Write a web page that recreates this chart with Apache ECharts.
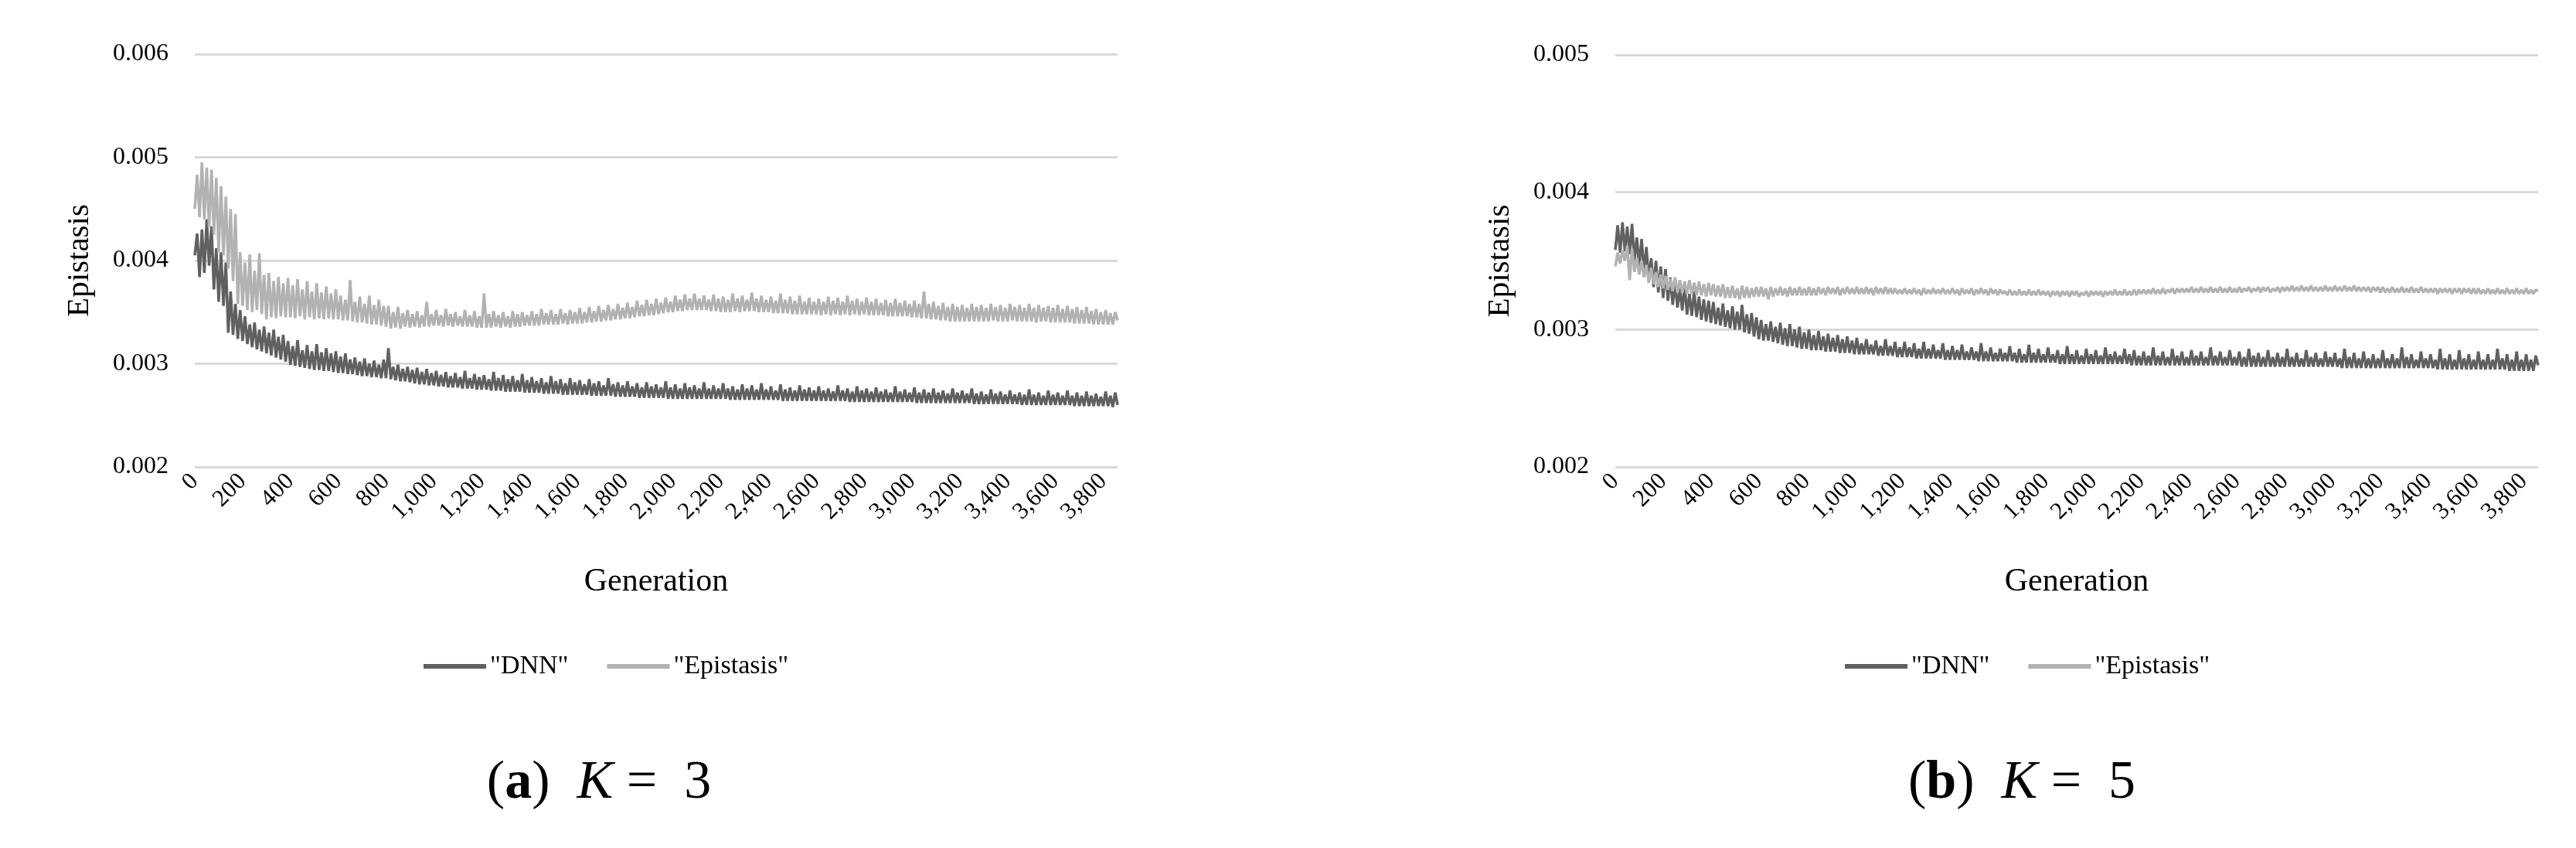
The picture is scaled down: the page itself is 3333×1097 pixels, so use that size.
<!DOCTYPE html>
<html>
<head>
<meta charset="utf-8">
<title>Epistasis vs DNN</title>
<script src="https://cdn.jsdelivr.net/npm/echarts@6/dist/echarts.min.js"></script>
<style>
  html, body { margin: 0; padding: 0; background: #fff; }
  #chart { width: 3333px; height: 1097px; }
</style>
</head>
<body>
<div id="chart"></div>
<script>
// values are in units of 1e-3 (axis labels print them as 0.00x)
// one reading every 10 generations, alternating low/high edge of the noisy band
const generationStep = 10

const dnnK3 = [
  4.05, 4.26, 3.84, 4.30, 3.88, 4.40, 3.95, 4.33, 3.72, 4.12, 3.60, 4.08, 3.56, 3.98, 3.30, 3.70, 3.28, 3.58, 3.24, 3.52,
  3.22, 3.46, 3.19, 3.38, 3.16, 3.40, 3.14, 3.33, 3.12, 3.36, 3.10, 3.30, 3.08, 3.33, 3.06, 3.26, 3.04, 3.28, 3.02, 3.22,
  2.99, 3.17, 2.98, 3.23, 2.97, 3.13, 2.96, 3.18, 2.95, 3.12, 2.94, 3.19, 2.94, 3.11, 2.93, 3.15, 2.93, 3.10, 2.92, 3.12,
  2.91, 3.07, 2.91, 3.10, 2.90, 3.04, 2.90, 3.06, 2.89, 3.02, 2.88, 3.05, 2.88, 3.00, 2.87, 3.03, 2.87, 2.99, 2.86, 3.04,
  2.86, 3.15, 2.85, 2.97, 2.84, 2.99, 2.83, 2.95, 2.83, 2.97, 2.82, 2.94, 2.81, 2.96, 2.80, 2.92, 2.80, 2.95, 2.79, 2.91,
  2.79, 2.93, 2.78, 2.89, 2.78, 2.92, 2.77, 2.88, 2.77, 2.91, 2.77, 2.87, 2.76, 2.93, 2.76, 2.86, 2.76, 2.90, 2.75, 2.87,
  2.75, 2.89, 2.75, 2.85, 2.74, 2.92, 2.74, 2.86, 2.74, 2.89, 2.73, 2.85, 2.73, 2.88, 2.73, 2.84, 2.73, 2.90, 2.72, 2.84,
  2.72, 2.87, 2.72, 2.83, 2.72, 2.86, 2.71, 2.82, 2.71, 2.88, 2.71, 2.83, 2.71, 2.85, 2.70, 2.81, 2.70, 2.86, 2.70, 2.82,
  2.70, 2.84, 2.70, 2.80, 2.70, 2.85, 2.69, 2.81, 2.69, 2.83, 2.69, 2.79, 2.69, 2.86, 2.69, 2.80, 2.68, 2.82, 2.68, 2.79,
  2.68, 2.83, 2.68, 2.78, 2.68, 2.81, 2.67, 2.77, 2.67, 2.82, 2.67, 2.78, 2.67, 2.80, 2.67, 2.77, 2.67, 2.83, 2.66, 2.77,
  2.66, 2.80, 2.66, 2.76, 2.66, 2.81, 2.66, 2.77, 2.66, 2.79, 2.66, 2.76, 2.66, 2.82, 2.66, 2.76, 2.66, 2.79, 2.66, 2.76,
  2.66, 2.81, 2.66, 2.76, 2.65, 2.78, 2.65, 2.75, 2.65, 2.80, 2.65, 2.76, 2.65, 2.79, 2.65, 2.75, 2.65, 2.81, 2.65, 2.75,
  2.65, 2.78, 2.65, 2.74, 2.65, 2.80, 2.64, 2.75, 2.64, 2.77, 2.64, 2.74, 2.64, 2.79, 2.64, 2.75, 2.64, 2.77, 2.64, 2.74,
  2.64, 2.78, 2.64, 2.74, 2.64, 2.76, 2.64, 2.73, 2.64, 2.79, 2.64, 2.74, 2.64, 2.76, 2.63, 2.73, 2.63, 2.78, 2.63, 2.74,
  2.63, 2.76, 2.63, 2.73, 2.63, 2.77, 2.63, 2.73, 2.63, 2.75, 2.63, 2.72, 2.63, 2.78, 2.63, 2.73, 2.63, 2.75, 2.63, 2.72,
  2.63, 2.77, 2.62, 2.72, 2.62, 2.75, 2.62, 2.72, 2.62, 2.76, 2.62, 2.72, 2.62, 2.74, 2.62, 2.71, 2.62, 2.76, 2.62, 2.72,
  2.62, 2.74, 2.62, 2.71, 2.62, 2.76, 2.61, 2.71, 2.61, 2.73, 2.61, 2.70, 2.61, 2.75, 2.61, 2.71, 2.61, 2.73, 2.61, 2.70,
  2.61, 2.74, 2.61, 2.70, 2.61, 2.72, 2.60, 2.70, 2.60, 2.75, 2.60, 2.70, 2.60, 2.72, 2.60, 2.69, 2.60, 2.74, 2.60, 2.70,
  2.60, 2.72, 2.60, 2.69, 2.60, 2.74, 2.60, 2.69, 2.59, 2.72, 2.59, 2.69, 2.59, 2.73, 2.59, 2.69, 2.59, 2.71, 2.59, 2.68,
  2.59, 2.73, 2.59, 2.69, 2.58, 2.72, 2.60
]

const epistasisK3 = [
  4.50, 4.83, 4.42, 4.95, 4.40, 4.90, 4.32, 4.88, 4.25, 4.80, 4.08, 4.72, 4.05, 4.62, 3.92, 4.50, 3.80, 4.45, 3.58, 4.08,
  3.56, 3.98, 3.52, 4.06, 3.50, 3.90, 3.52, 4.07, 3.48, 3.86, 3.43, 3.88, 3.45, 3.80, 3.44, 3.84, 3.46, 3.78, 3.45, 3.83,
  3.45, 3.76, 3.44, 3.82, 3.46, 3.72, 3.43, 3.80, 3.45, 3.70, 3.43, 3.78, 3.44, 3.69, 3.43, 3.75, 3.44, 3.68, 3.43, 3.72,
  3.43, 3.66, 3.42, 3.62, 3.42, 3.81, 3.41, 3.60, 3.40, 3.65, 3.40, 3.58, 3.39, 3.66, 3.38, 3.57, 3.38, 3.62, 3.37, 3.56,
  3.36, 3.56, 3.34, 3.50, 3.35, 3.55, 3.34, 3.49, 3.36, 3.52, 3.35, 3.48, 3.36, 3.51, 3.35, 3.47, 3.36, 3.60, 3.36, 3.48,
  3.37, 3.52, 3.37, 3.47, 3.36, 3.53, 3.37, 3.48, 3.36, 3.50, 3.37, 3.46, 3.36, 3.52, 3.36, 3.47, 3.36, 3.51, 3.35, 3.46,
  3.35, 3.68, 3.35, 3.48, 3.35, 3.51, 3.36, 3.47, 3.35, 3.50, 3.36, 3.46, 3.35, 3.51, 3.36, 3.48, 3.36, 3.50, 3.37, 3.47,
  3.37, 3.51, 3.37, 3.48, 3.37, 3.53, 3.38, 3.49, 3.38, 3.52, 3.38, 3.48, 3.38, 3.53, 3.39, 3.49, 3.38, 3.52, 3.39, 3.50,
  3.39, 3.54, 3.39, 3.50, 3.40, 3.55, 3.40, 3.51, 3.41, 3.56, 3.41, 3.52, 3.42, 3.57, 3.42, 3.53, 3.43, 3.58, 3.43, 3.54,
  3.44, 3.59, 3.44, 3.55, 3.45, 3.61, 3.46, 3.57, 3.46, 3.62, 3.47, 3.58, 3.47, 3.63, 3.48, 3.59, 3.49, 3.64, 3.50, 3.60,
  3.50, 3.66, 3.51, 3.62, 3.51, 3.67, 3.52, 3.63, 3.52, 3.68, 3.52, 3.63, 3.52, 3.66, 3.52, 3.62, 3.51, 3.67, 3.51, 3.63,
  3.50, 3.65, 3.50, 3.62, 3.50, 3.68, 3.51, 3.63, 3.50, 3.66, 3.51, 3.62, 3.51, 3.69, 3.51, 3.63, 3.50, 3.66, 3.50, 3.62,
  3.50, 3.65, 3.49, 3.61, 3.49, 3.68, 3.49, 3.62, 3.49, 3.65, 3.48, 3.61, 3.48, 3.66, 3.48, 3.60, 3.48, 3.64, 3.48, 3.60,
  3.48, 3.63, 3.47, 3.60, 3.48, 3.65, 3.47, 3.61, 3.48, 3.64, 3.47, 3.60, 3.48, 3.66, 3.47, 3.61, 3.48, 3.63, 3.47, 3.60,
  3.48, 3.64, 3.47, 3.60, 3.47, 3.63, 3.47, 3.59, 3.47, 3.62, 3.46, 3.59, 3.46, 3.63, 3.46, 3.59, 3.46, 3.61, 3.46, 3.58,
  3.45, 3.61, 3.45, 3.58, 3.44, 3.70, 3.44, 3.58, 3.43, 3.60, 3.43, 3.56, 3.42, 3.59, 3.42, 3.55, 3.41, 3.58, 3.41, 3.55,
  3.41, 3.57, 3.41, 3.54, 3.41, 3.58, 3.41, 3.55, 3.41, 3.57, 3.41, 3.54, 3.41, 3.58, 3.42, 3.55, 3.41, 3.57, 3.41, 3.54,
  3.41, 3.58, 3.42, 3.55, 3.41, 3.57, 3.41, 3.54, 3.41, 3.58, 3.41, 3.54, 3.40, 3.57, 3.41, 3.54, 3.41, 3.56, 3.40, 3.54,
  3.40, 3.57, 3.40, 3.53, 3.40, 3.56, 3.40, 3.53, 3.39, 3.55, 3.39, 3.52, 3.39, 3.55, 3.39, 3.51, 3.38, 3.53, 3.38, 3.50,
  3.38, 3.52, 3.38, 3.49, 3.38, 3.50, 3.42
]

const dnnK5 = [
  3.58, 3.76, 3.56, 3.78, 3.57, 3.75, 3.55, 3.77, 3.50, 3.67, 3.46, 3.66, 3.42, 3.60, 3.36, 3.52, 3.31, 3.50, 3.27, 3.46,
  3.23, 3.44, 3.21, 3.38, 3.18, 3.34, 3.16, 3.30, 3.14, 3.32, 3.11, 3.26, 3.10, 3.28, 3.09, 3.24, 3.07, 3.22, 3.06, 3.21,
  3.05, 3.20, 3.04, 3.16, 3.03, 3.19, 3.02, 3.14, 3.01, 3.17, 3.00, 3.13, 3.00, 3.18, 2.98, 3.11, 2.97, 3.12, 2.95, 3.09,
  2.93, 3.07, 2.92, 3.04, 2.92, 3.06, 2.91, 3.02, 2.90, 3.05, 2.89, 3.01, 2.88, 3.04, 2.88, 3.00, 2.87, 3.02, 2.86, 2.98,
  2.86, 3.00, 2.85, 2.96, 2.85, 2.99, 2.85, 2.95, 2.84, 2.97, 2.84, 2.94, 2.84, 2.96, 2.83, 2.93, 2.83, 2.95, 2.83, 2.92,
  2.82, 2.94, 2.82, 2.90, 2.82, 2.93, 2.82, 2.89, 2.82, 2.92, 2.81, 2.88, 2.81, 2.93, 2.81, 2.88, 2.81, 2.91, 2.80, 2.87,
  2.80, 2.91, 2.80, 2.87, 2.80, 2.90, 2.79, 2.86, 2.79, 2.91, 2.79, 2.86, 2.79, 2.89, 2.79, 2.85, 2.79, 2.90, 2.78, 2.85,
  2.78, 2.88, 2.78, 2.85, 2.78, 2.89, 2.78, 2.84, 2.78, 2.87, 2.78, 2.84, 2.77, 2.90, 2.77, 2.84, 2.77, 2.87, 2.77, 2.83,
  2.77, 2.86, 2.77, 2.83, 2.77, 2.88, 2.77, 2.83, 2.76, 2.86, 2.76, 2.82, 2.76, 2.89, 2.76, 2.83, 2.76, 2.86, 2.76, 2.82,
  2.76, 2.87, 2.76, 2.82, 2.76, 2.85, 2.75, 2.82, 2.75, 2.88, 2.75, 2.82, 2.75, 2.85, 2.75, 2.81, 2.75, 2.86, 2.75, 2.82,
  2.75, 2.85, 2.75, 2.81, 2.75, 2.87, 2.75, 2.82, 2.75, 2.84, 2.75, 2.81, 2.75, 2.86, 2.75, 2.82, 2.74, 2.85, 2.74, 2.81,
  2.74, 2.84, 2.74, 2.81, 2.74, 2.87, 2.74, 2.81, 2.74, 2.84, 2.74, 2.80, 2.74, 2.86, 2.74, 2.81, 2.74, 2.84, 2.74, 2.80,
  2.74, 2.85, 2.74, 2.81, 2.74, 2.84, 2.74, 2.80, 2.74, 2.87, 2.74, 2.81, 2.74, 2.84, 2.74, 2.80, 2.74, 2.85, 2.74, 2.80,
  2.74, 2.84, 2.73, 2.80, 2.73, 2.86, 2.73, 2.81, 2.73, 2.83, 2.73, 2.80, 2.73, 2.85, 2.73, 2.80, 2.73, 2.83, 2.73, 2.80,
  2.73, 2.86, 2.73, 2.80, 2.73, 2.83, 2.73, 2.79, 2.73, 2.85, 2.73, 2.80, 2.73, 2.83, 2.73, 2.79, 2.73, 2.84, 2.73, 2.80,
  2.73, 2.83, 2.73, 2.79, 2.72, 2.86, 2.72, 2.80, 2.72, 2.83, 2.72, 2.79, 2.72, 2.84, 2.72, 2.79, 2.72, 2.82, 2.72, 2.79,
  2.72, 2.85, 2.72, 2.79, 2.72, 2.82, 2.72, 2.79, 2.72, 2.87, 2.72, 2.80, 2.72, 2.82, 2.72, 2.78, 2.72, 2.84, 2.72, 2.79,
  2.72, 2.82, 2.72, 2.78, 2.71, 2.86, 2.71, 2.79, 2.71, 2.82, 2.71, 2.78, 2.71, 2.85, 2.71, 2.79, 2.71, 2.82, 2.71, 2.78,
  2.71, 2.84, 2.71, 2.78, 2.71, 2.82, 2.71, 2.78, 2.71, 2.86, 2.71, 2.79, 2.71, 2.82, 2.70, 2.78, 2.70, 2.84, 2.70, 2.78,
  2.70, 2.82, 2.70, 2.78, 2.70, 2.81, 2.74
]

const epistasisK5 = [
  3.46, 3.56, 3.48, 3.58, 3.50, 3.61, 3.36, 3.59, 3.42, 3.52, 3.40, 3.50, 3.38, 3.47, 3.34, 3.45, 3.33, 3.42, 3.31, 3.40,
  3.30, 3.39, 3.29, 3.37, 3.28, 3.38, 3.27, 3.36, 3.27, 3.35, 3.26, 3.36, 3.26, 3.34, 3.25, 3.35, 3.25, 3.33, 3.24, 3.34,
  3.25, 3.33, 3.24, 3.32, 3.24, 3.33, 3.23, 3.31, 3.23, 3.32, 3.23, 3.30, 3.22, 3.32, 3.23, 3.31, 3.23, 3.30, 3.24, 3.31,
  3.24, 3.31, 3.24, 3.30, 3.22, 3.31, 3.24, 3.30, 3.25, 3.31, 3.25, 3.30, 3.24, 3.31, 3.25, 3.30, 3.25, 3.31, 3.25, 3.30,
  3.25, 3.31, 3.25, 3.30, 3.25, 3.31, 3.26, 3.30, 3.25, 3.31, 3.26, 3.30, 3.26, 3.31, 3.25, 3.30, 3.26, 3.31, 3.26, 3.30,
  3.26, 3.31, 3.26, 3.30, 3.26, 3.31, 3.26, 3.30, 3.25, 3.31, 3.26, 3.30, 3.26, 3.31, 3.26, 3.30, 3.26, 3.30, 3.26, 3.29,
  3.26, 3.30, 3.26, 3.29, 3.26, 3.30, 3.26, 3.29, 3.25, 3.30, 3.26, 3.29, 3.26, 3.30, 3.26, 3.29, 3.26, 3.30, 3.26, 3.29,
  3.26, 3.30, 3.26, 3.29, 3.25, 3.30, 3.26, 3.29, 3.26, 3.30, 3.25, 3.29, 3.26, 3.30, 3.26, 3.29, 3.25, 3.30, 3.26, 3.29,
  3.25, 3.29, 3.26, 3.28, 3.25, 3.29, 3.25, 3.28, 3.25, 3.29, 3.25, 3.28, 3.25, 3.29, 3.25, 3.28, 3.25, 3.29, 3.25, 3.28,
  3.25, 3.28, 3.24, 3.28, 3.25, 3.28, 3.24, 3.28, 3.25, 3.28, 3.24, 3.28, 3.25, 3.28, 3.24, 3.27, 3.25, 3.28, 3.24, 3.28,
  3.25, 3.28, 3.25, 3.28, 3.24, 3.28, 3.25, 3.28, 3.25, 3.29, 3.25, 3.28, 3.25, 3.29, 3.25, 3.28, 3.25, 3.29, 3.25, 3.29,
  3.26, 3.29, 3.26, 3.29, 3.26, 3.30, 3.26, 3.29, 3.26, 3.30, 3.26, 3.29, 3.27, 3.30, 3.26, 3.30, 3.27, 3.30, 3.27, 3.30,
  3.27, 3.31, 3.27, 3.30, 3.27, 3.31, 3.27, 3.30, 3.27, 3.31, 3.27, 3.30, 3.27, 3.31, 3.27, 3.30, 3.27, 3.31, 3.27, 3.30,
  3.27, 3.31, 3.27, 3.30, 3.28, 3.31, 3.27, 3.30, 3.28, 3.31, 3.27, 3.31, 3.28, 3.31, 3.27, 3.30, 3.28, 3.31, 3.27, 3.31,
  3.28, 3.31, 3.28, 3.32, 3.28, 3.31, 3.28, 3.32, 3.28, 3.31, 3.28, 3.32, 3.28, 3.31, 3.28, 3.31, 3.28, 3.32, 3.28, 3.31,
  3.28, 3.32, 3.28, 3.31, 3.28, 3.32, 3.28, 3.31, 3.28, 3.32, 3.28, 3.31, 3.28, 3.31, 3.28, 3.31, 3.27, 3.31, 3.28, 3.31,
  3.27, 3.31, 3.27, 3.30, 3.27, 3.31, 3.27, 3.30, 3.27, 3.31, 3.27, 3.30, 3.27, 3.31, 3.27, 3.30, 3.27, 3.31, 3.27, 3.30,
  3.27, 3.30, 3.27, 3.30, 3.26, 3.30, 3.27, 3.30, 3.27, 3.30, 3.26, 3.30, 3.27, 3.30, 3.26, 3.30, 3.27, 3.30, 3.26, 3.30,
  3.26, 3.30, 3.26, 3.29, 3.26, 3.30, 3.26, 3.29, 3.26, 3.30, 3.26, 3.29, 3.26, 3.30, 3.26, 3.29, 3.26, 3.30, 3.26, 3.29,
  3.26, 3.30, 3.26, 3.29, 3.26, 3.29, 3.28
]

const lastGeneration = 3860
const seriesNames = ['"DNN"', '"Epistasis"']
const captions = [['a', '3'], ['b', '5']]

const dnnColor = '#606060'
const epistasisColor = '#b2b2b2'
const font = 'Liberation Serif'

const toPoints = (values) => values.map((v, i) => [i * generationStep, v])

const chart = echarts.init(document.getElementById('chart'))

const grids = [
  { left: 252, top: 70, width: 1194, height: 534 },
  { left: 2090, top: 71, width: 1194, height: 533 },
]
const yMax = [6, 5]

const xAxes = grids.map((g, i) => ({
  type: 'value',
  gridIndex: i,
  min: 0,
  max: lastGeneration,
  interval: 200,
  name: 'Generation',
  nameLocation: 'middle',
  nameGap: 128,
  nameTextStyle: { fontFamily: font, fontSize: 42, color: '#000' },
  axisLine: { show: false },
  axisTick: { show: false },
  splitLine: { show: false },
  axisLabel: {
    rotate: 45,
    margin: 14,
    showMaxLabel: false,
    fontFamily: font,
    fontSize: 31,
    color: '#000',
    formatter: (v) => v.toLocaleString('en-US'),
  },
}))

const yAxes = grids.map((g, i) => ({
  type: 'value',
  gridIndex: i,
  min: 2,
  max: yMax[i],
  interval: 1,
  name: 'Epistasis',
  nameLocation: 'middle',
  nameGap: 128,
  nameTextStyle: { fontFamily: font, fontSize: 41, color: '#000' },
  axisLine: { show: false },
  axisTick: { show: false },
  splitLine: { lineStyle: { color: '#d9d9d9', width: 3 } },
  axisLabel: {
    margin: 34,
    fontFamily: font,
    fontSize: 32,
    color: '#000',
    formatter: (v) => (v / 1000).toFixed(3),
  },
}))

const lineSeries = (name, data, color, idx) => ({
  name: name,
  type: 'line',
  xAxisIndex: idx,
  yAxisIndex: idx,
  data: toPoints(data),
  showSymbol: false,
  symbol: 'none',
  lineStyle: { color: color, width: 3.5 },
  itemStyle: { color: color },
})

const option = {
  animation: false,
  backgroundColor: '#fff',
  grid: grids,
  xAxis: xAxes,
  yAxis: yAxes,
  legend: [543, 2382].map((left) => ({
    left: left,
    top: 840,
    icon: 'rect',
    itemWidth: 81,
    itemHeight: 6,
    itemGap: 50,
    textStyle: { fontFamily: font, fontSize: 34, color: '#000' },
    data: seriesNames,
  })),
  series: [
    lineSeries(seriesNames[0], dnnK3, dnnColor, 0),
    lineSeries(seriesNames[1], epistasisK3, epistasisColor, 0),
    lineSeries(seriesNames[0], dnnK5, dnnColor, 1),
    lineSeries(seriesNames[1], epistasisK5, epistasisColor, 1),
  ],
  // sub-figure captions "(a) K = 3" / "(b) K = 5"
  graphic: captions.map((c, i) => ({
    type: 'text',
    x: [775, 2616][i],
    y: 1014,
    style: {
      text: '{p|(}{b|' + c[0] + '}{p|)  }{i|K}{p| =  ' + c[1] + '}',
      align: 'center',
      verticalAlign: 'middle',
      rich: {
        p: { fontFamily: font, fontSize: 70, fill: '#000' },
        b: { fontFamily: font, fontSize: 70, fontWeight: 'bold', fill: '#000' },
        i: { fontFamily: font, fontSize: 70, fontStyle: 'italic', fill: '#000' },
      },
    },
  })),
}

option && chart.setOption(option)
</script>
</body>
</html>
